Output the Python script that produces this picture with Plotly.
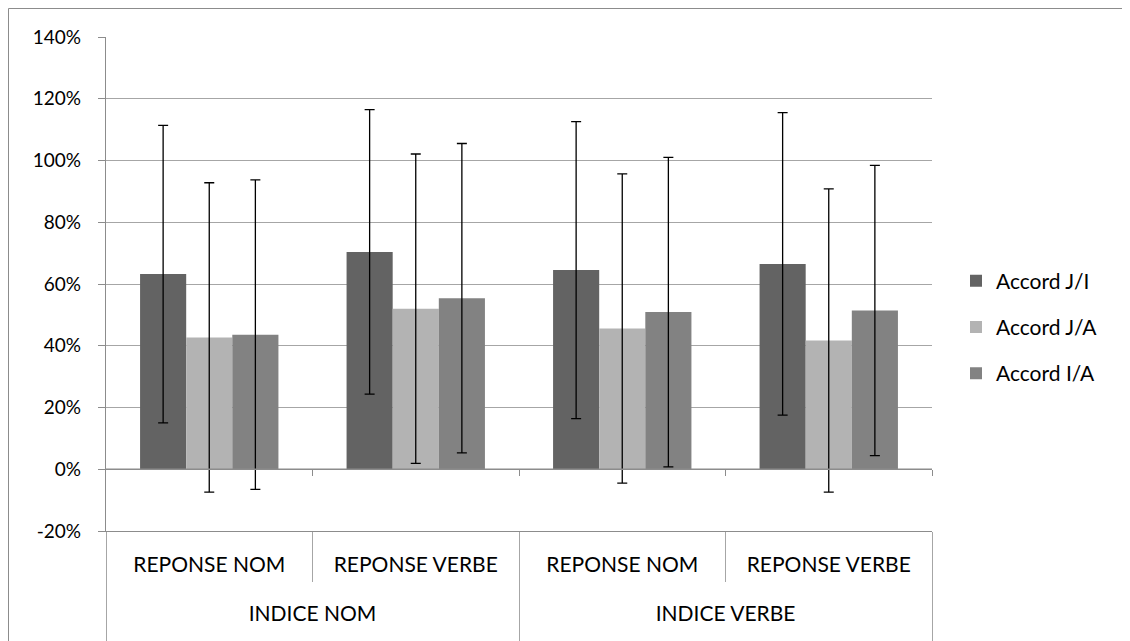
import plotly.graph_objects as go

indice = ["INDICE NOM", "INDICE VERBE"]
reponse = ["REPONSE NOM", "REPONSE VERBE", "REPONSE NOM", "REPONSE VERBE"]
positions = [0, 1, 2, 3]
indice_positions = [0.5, 2.5]

series_names = ["Accord J/I", "Accord J/A", "Accord I/A"]
accord_ji = [0.632, 0.704, 0.645, 0.665]
accord_ji_err = [0.482, 0.461, 0.481, 0.490]
accord_ja = [0.427, 0.520, 0.456, 0.417]
accord_ja_err = [0.501, 0.501, 0.501, 0.491]
accord_ia = [0.436, 0.554, 0.509, 0.514]
accord_ia_err = [0.501, 0.501, 0.501, 0.470]
colors = ["#636363", "#b3b3b3", "#828282"]

y_ticks = [-0.2, 0, 0.2, 0.4, 0.6, 0.8, 1.0, 1.2, 1.4]
y_tick_text = ["-20%", "0%", "20%", "40%", "60%", "80%", "100%", "120%", "140%"]

FONT = "Lato, 'Open Sans', sans-serif"
W, H = 1122, 633
ML, MT, PW, PH = 98, 29, 826, 494
MR, MB = W - ML - PW, H - MT - PH
AXC = "#8c8c8c"
DIVC = "#a6a6a6"

fig = go.Figure()
for name, vals, errs, col in zip(series_names,
                                 [accord_ji, accord_ja, accord_ia],
                                 [accord_ji_err, accord_ja_err, accord_ia_err],
                                 colors):
    fig.add_trace(go.Bar(
        name=name, x=positions, y=vals, marker_color=col,
        marker_line_width=0, legendgroup=name,
        error_y=dict(type="data", array=errs, visible=True, color="#000000",
                     thickness=1.3, width=5),
    ))

# zero line with boundary ticks
fig.add_trace(go.Scatter(x=[-0.5, 3.5], y=[0, 0], xaxis="x2", yaxis="y",
                         mode="lines", line=dict(color=AXC, width=1.3),
                         showlegend=False, hoverinfo="skip"))
# carrier for the outer category axis
fig.add_trace(go.Scatter(x=indice_positions, y=[None, None], xaxis="x3",
                         yaxis="y", mode="markers", showlegend=False,
                         hoverinfo="skip"))

fig.update_layout(
    width=W, height=H,
    margin=dict(l=ML, r=MR, t=MT, b=MB),
    paper_bgcolor="white", plot_bgcolor="white",
    font=dict(family=FONT, size=21, color="#000000"),
    barmode="group", bargap=0.33, bargroupgap=0,
    showlegend=True,
    legend=dict(x=(948 - ML) / PW, xanchor="left",
                y=(MT + PH - 319) / PH, yanchor="middle",
                font=dict(size=21, family=FONT), traceorder="grouped",
                bgcolor="rgba(0,0,0,0)", itemwidth=30, tracegroupgap=16),
    xaxis=dict(range=[-0.5, 3.5], tickvals=positions, ticktext=reponse,
               showline=True, linecolor=AXC, linewidth=1.3, ticks="",
               showgrid=False, zeroline=False, ticklabelstandoff=15,
               tickfont=dict(size=21, family=FONT),
               minor=dict(tickmode="array", tickvals=[0.5, 2.5],
                          ticks="outside", ticklen=50, tickcolor=DIVC,
                          tickwidth=1, showgrid=False)),
    xaxis2=dict(overlaying="x", anchor="free", position=0.125,
                range=[-0.5, 3.5], tickvals=[0.5, 1.5, 2.5, 3.5],
                showticklabels=False, ticks="outside", ticklen=6,
                tickcolor=AXC, showline=False, showgrid=False,
                zeroline=False),
    xaxis3=dict(overlaying="x", anchor="y", side="bottom",
                range=[-0.5, 3.5], tickvals=indice_positions,
                ticktext=indice, ticks="", showline=False, showgrid=False,
                zeroline=False, ticklabelstandoff=68,
                tickfont=dict(size=21, family=FONT),
                minor=dict(tickmode="array", tickvals=[-0.5, 1.5, 3.5],
                           ticks="outside", ticklen=112, tickcolor=DIVC,
                           tickwidth=1, showgrid=False)),
    yaxis=dict(range=[-0.2, 1.4], tickvals=y_ticks, ticktext=y_tick_text,
               showgrid=True, gridcolor="#a6a6a6", gridwidth=1.3,
               showline=True, linecolor=AXC, linewidth=1.3,
               ticks="outside", ticklen=7, tickcolor=AXC,
               zeroline=False, ticklabelstandoff=13,
               tickfont=dict(size=19, family=FONT)),
    shapes=[dict(type="rect", xref="paper", yref="paper",
                 x0=(0.5 - ML) / PW, x1=(W + 20 - ML) / PW,
                 y0=(MT + PH - H - 20) / PH, y1=(MT + PH - 0.5) / PH,
                 line=dict(color=AXC, width=1), fillcolor="rgba(0,0,0,0)",
                 layer="below")],
)

fig.write_html("out.html")
